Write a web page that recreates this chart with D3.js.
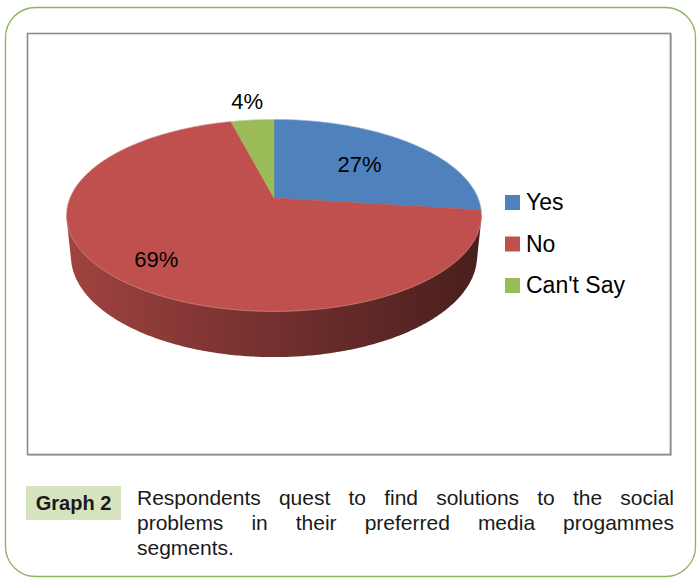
<!DOCTYPE html>
<meta charset="utf-8">
<head>
  <title>Graph 2</title>
</head>

<style>
body {
  margin: 0;
  background: #fff;
  font-family: "Liberation Sans", Arial, sans-serif;
}
</style>

<body>
  <div id="chart"></div>

  <script src="https://cdnjs.cloudflare.com/ajax/libs/d3/7.8.5/d3.min.js"></script>

  <script>
// DATA
var categories = ['Yes', 'No', "Can't Say"];
var values = [27, 69, 4];
var colors = ['#4f81bd', '#c0504d', '#9bbb59'];
var captionTag = 'Graph 2';
var captionLines = [
  'Respondents quest to find solutions to the social',
  'problems in their preferred media progammes',
  'segments.'
];

var width = 697, height = 578;

var svg = d3.select('#chart').append('svg')
  .attr('width', width)
  .attr('height', height);

var defs = svg.append('defs');

// outer rounded frame
svg.append('rect')
  .attr('x', 5.5).attr('y', 7.5)
  .attr('width', 690).attr('height', 569)
  .attr('rx', 30).attr('ry', 30)
  .attr('fill', 'none')
  .attr('stroke', '#8db35a')
  .attr('stroke-width', 1.3);

// chart area box
svg.append('rect')
  .attr('x', 28.5).attr('y', 34.5)
  .attr('width', 643).attr('height', 421)
  .attr('fill', 'none')
  .attr('stroke', '#d0d0d0')
  .attr('stroke-width', 1);
svg.append('rect')
  .attr('x', 27.5).attr('y', 33.5)
  .attr('width', 643).attr('height', 421)
  .attr('fill', '#fff')
  .attr('stroke', '#8a8a8a')
  .attr('stroke-width', 1.6);

// 3d pie projection
var cx = 274, cy = 198, S = 204;
var sa = 0.455, ca = 0.891, D = 4.91, H = 0.224;

function proj(theta, r, top) {
  var X = r * Math.sin(theta), Z = r * Math.cos(theta), Y = top ? 0 : -H;
  var w = D + Z * ca - Y * sa;
  var v = -Z * sa - Y * ca;
  return [cx + S * X * D / w, cy + S * v * D / w];
}

function arcPts(a0, a1, top) {
  var n = Math.max(2, Math.ceil((a1 - a0) / 0.01));
  return d3.range(n + 1).map(function(i) {
    return proj(a0 + (a1 - a0) * i / n, 1, top);
  });
}

var arcs = d3.pie().sort(null).value(function(d) { return d; })(values);

var pieG = svg.append('g');

// side wall: only the front part between the silhouette angles shows
var sil = Math.acos(-ca / (D + H * sa));
var left = proj(-Math.PI / 2 - 0.18, 1, true)[0], right = proj(Math.PI / 2 + 0.18, 1, true)[0];

arcs.forEach(function(d, i) {
  var grad = defs.append('linearGradient')
    .attr('id', 'side' + i)
    .attr('gradientUnits', 'userSpaceOnUse')
    .attr('x1', left).attr('x2', right)
    .attr('y1', 0).attr('y2', 0);
  var c = d3.color(colors[i]);
  grad.append('stop').attr('offset', 0).attr('stop-color', c.darker(0.5));
  grad.append('stop').attr('offset', 0.5).attr('stop-color', c.darker(1.45));
  grad.append('stop').attr('offset', 1).attr('stop-color', c.darker(2.7));
});

var sides = arcs.map(function(d, i) {
  return { i: i, lo: Math.max(d.startAngle, sil), hi: Math.min(d.endAngle, 2 * Math.PI - sil) };
}).filter(function(s) { return s.hi > s.lo; })
  .sort(function(a, b) {
    return Math.abs((b.lo + b.hi) / 2 - Math.PI) - Math.abs((a.lo + a.hi) / 2 - Math.PI);
  });

sides.forEach(function(s) {
  var pts = arcPts(s.lo, s.hi, true).concat(arcPts(s.lo, s.hi, false));
  var hull = d3.polygonHull(pts);
  pieG.append('path')
    .attr('d', 'M' + hull.join('L') + 'Z')
    .attr('fill', 'url(#side' + s.i + ')');
});

// top face
arcs.forEach(function(d, i) {
  var pts = [proj(0, 0, true)].concat(arcPts(d.startAngle, d.endAngle, true));
  pieG.append('path')
    .attr('d', 'M' + pts.join('L') + 'Z')
    .attr('fill', colors[i])
    .attr('stroke', colors[i])
    .attr('stroke-width', 0.5);
});

// light rim on top face
pieG.append('path')
  .attr('d', 'M' + arcPts(0, 2 * Math.PI, true).join('L') + 'Z')
  .attr('fill', 'none')
  .attr('stroke', 'rgba(255,255,255,0.25)')
  .attr('stroke-width', 1);

// data labels
arcs.forEach(function(d, i) {
  var mid = (d.startAngle + d.endAngle) / 2;
  var r = d.value < 5 ? 1.3 : (d.value > 50 ? 0.78 : 0.6);
  var p = proj(mid, r, true);
  svg.append('text')
    .attr('x', p[0]).attr('y', p[1])
    .attr('dy', '0.36em')
    .attr('text-anchor', 'middle')
    .attr('font-size', 22)
    .attr('fill', '#000')
    .text(d.value + '%');
});

// legend
var legendY = d3.scalePoint().domain(categories).range([210, 293]);
var legend = svg.append('g');
categories.forEach(function(c, i) {
  legend.append('rect')
    .attr('x', 505).attr('y', legendY(c) - 15)
    .attr('width', 15).attr('height', 15)
    .attr('fill', colors[i]);
  legend.append('text')
    .attr('x', 526).attr('y', legendY(c))
    .attr('font-size', 23)
    .attr('fill', '#000')
    .text(c);
});

// caption
svg.append('rect')
  .attr('x', 26).attr('y', 486)
  .attr('width', 95).attr('height', 34)
  .attr('fill', '#d7e3bf');
svg.append('text')
  .attr('x', 73.5).attr('y', 510)
  .attr('text-anchor', 'middle')
  .attr('font-size', 20)
  .attr('font-weight', 'bold')
  .attr('fill', '#1a1a1a')
  .text(captionTag);

var capX0 = 137, capX1 = 674;
captionLines.forEach(function(line, li) {
  var words = line.split(' ');
  var t = svg.append('text')
    .attr('y', 505 + li * 25)
    .attr('font-size', 21)
    .attr('fill', '#1a1a1a');
  var spans = words.map(function(w) { return t.append('tspan').text(w); });
  var widths = spans.map(function(s) { return s.node().getComputedTextLength(); });
  var total = d3.sum(widths);
  var gap = (li < captionLines.length - 1 && words.length > 1)
    ? (capX1 - capX0 - total) / (words.length - 1)
    : 6;
  var x = capX0;
  spans.forEach(function(s, k) {
    s.attr('x', x);
    x += widths[k] + gap;
  });
});
  </script>
</body>
</html>
